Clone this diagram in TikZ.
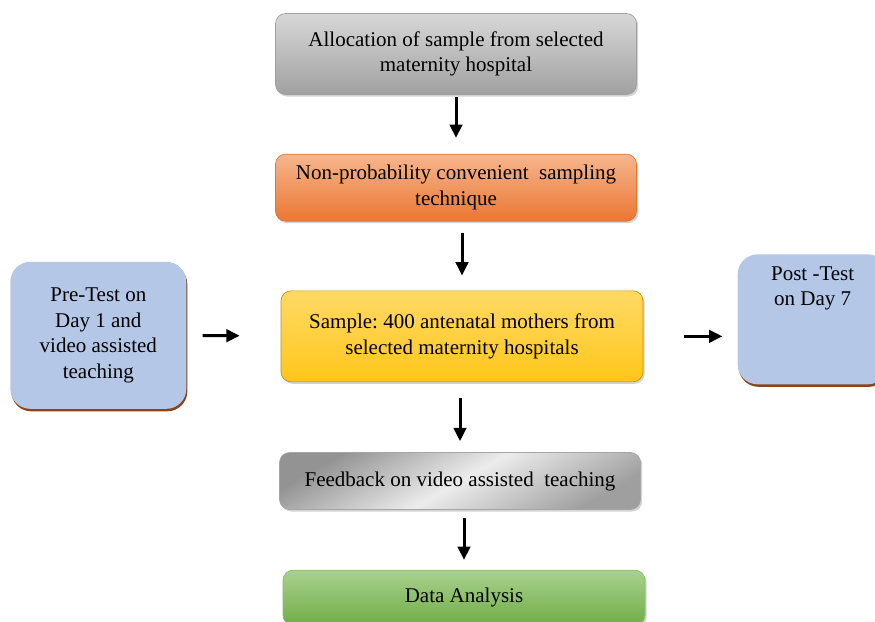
\documentclass[tikz,border=0pt]{standalone}
\usepackage{fontspec}
\setmainfont{Liberation Serif}
\usetikzlibrary{positioning,shadows,arrows.meta}

\definecolor{allocgray}{HTML}{BDBDBD}
\definecolor{allocedge}{HTML}{A0A0A0}
\definecolor{orangetop}{HTML}{F6B68E}
\definecolor{orangebot}{HTML}{EB7632}
\definecolor{orangeedge}{HTML}{E0783A}
\definecolor{yellowtop}{HTML}{FFD966}
\definecolor{yellowmid}{HTML}{FFC000}
\definecolor{yellowedge}{HTML}{C69400}
\definecolor{paleblue}{HTML}{B4C7E7}
\definecolor{shadowbrown}{HTML}{8A4416}
\definecolor{greentop}{HTML}{A9D18E}
\definecolor{greenbot}{HTML}{70AD47}
\definecolor{greenedge}{HTML}{8CBF6A}

\begin{document}
\begin{tikzpicture}[node distance=36pt, font=\fontsize{12.6}{15.3}\selectfont,
    block/.style={rectangle, draw, rounded corners=6pt, minimum width=216.6pt, align=center,
        drop shadow={shadow xshift=1pt, shadow yshift=-1.2pt, opacity=0.35}},
    sidebox/.style={rectangle, fill=paleblue, rounded corners=12pt, align=center,
        drop shadow={shadow xshift=0.6pt, shadow yshift=-1.5pt, fill=shadowbrown, opacity=1}},
    arrow/.style={-{Triangle[length=8pt,width=7.5pt]}, line width=1.8pt}
]
\clip (0,0) rectangle (525pt,-372.6pt);

% Nodes
\node[block, minimum height=48.6pt, draw=allocedge, top color=allocgray!60, bottom color=allocgray!85!black]
    (alloc) at (273.6pt,-32.4pt) {Allocation of sample from selected\\maternity hospital};
\node[block, minimum height=40.2pt, draw=orangeedge, top color=orangetop, bottom color=orangebot, below=35.4pt of alloc]
    (sampling) {Non-probability convenient\ \ sampling\\technique};
\node[block, minimum height=54.6pt, minimum width=217.2pt, draw=yellowedge, top color=yellowtop, middle color=yellowmid, bottom color=yellowmid!75!yellowtop, below=41.4pt of sampling, xshift=3.6pt]
    (sample) {Sample:\ 400 antenatal mothers from\\selected maternity hospitals};
\node[block, minimum height=34.2pt, draw=gray!70, left color=gray!85, right color=gray!75, middle color=gray!15, shading angle=30, below=42pt of sample, xshift=-1.2pt]
    (feedback) {Feedback on video assisted\ \ teaching};
\node[block, minimum height=33pt, minimum width=217.2pt, draw=greenedge, top color=greentop, bottom color=greenbot, below=36pt of feedback, xshift=2.4pt]
    (analysis) {Data Analysis};

\node[sidebox, minimum width=105.6pt, minimum height=88.2pt, left=56.4pt of sample, yshift=0.6pt]
    (pretest) {Pre-Test on\\Day 1 and\\video assisted\\teaching};
\node[sidebox, minimum width=90pt, minimum height=78pt, right=56.4pt of sample, yshift=10.2pt,
    label={[anchor=north, yshift=-4pt, align=center]north:Post -Test\\on Day 7}]
    (posttest) {};

% Arrows
\draw[arrow, shorten <=1.2pt, shorten >=9.6pt] (alloc) -- (sampling);
\draw[arrow, shorten <=6.6pt, shorten >=9pt] (sampling.south -| sample) -- (sample);
\draw[arrow, shorten <=9.6pt, shorten >=6.6pt] (sample.south -| feedback) -- (feedback);
\draw[arrow, shorten <=4.8pt, shorten >=6pt] (feedback.south -| analysis) -- (analysis);
\draw[arrow, shorten <=9.6pt, shorten >=24.6pt] (pretest) -- (sample);
\draw[arrow, shorten <=24.6pt, shorten >=9pt] (sample) -- (sample -| posttest.west);

\end{tikzpicture}
\end{document}
